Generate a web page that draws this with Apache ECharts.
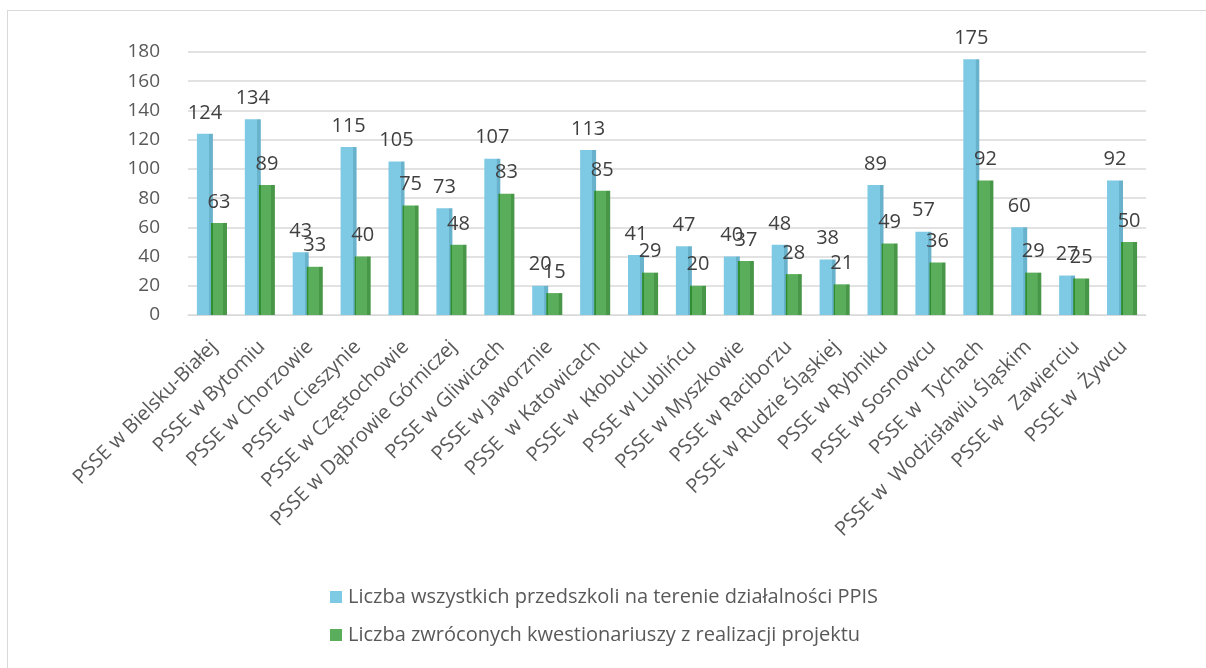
<!DOCTYPE html>
<html>
<head>
<meta charset="utf-8">
<script src="https://cdn.jsdelivr.net/npm/echarts@6/dist/echarts.min.js"></script>
<style>
    html, body {
        margin: 0;
        padding: 0;
        background: #fff;
        overflow: hidden;
    }
    #frame {
        position: absolute;
        left: 7px;
        top: 10px;
        width: 1230px;
        height: 700px;
        border: 1px solid #d9d9d9;
    }
    #chart {
        position: absolute;
        left: 0;
        top: 0;
        width: 1206px;
        height: 668px;
    }
</style>
</head>
<body>
<div id="frame"></div>
<div id="chart"></div>
<script>
// kategorie (PSSE) i wartości
var categories = [
    'PSSE w Bielsku-Białej', 'PSSE w Bytomiu', 'PSSE w Chorzowie', 'PSSE w Cieszynie',
    'PSSE w Częstochowie', 'PSSE w Dąbrowie Górniczej', 'PSSE w Gliwicach', 'PSSE w Jaworznie',
    'PSSE  w Katowicach', 'PSSE w  Kłobucku', 'PSSE w Lublińcu', 'PSSE w Myszkowie',
    'PSSE w Raciborzu', 'PSSE w Rudzie Śląskiej', 'PSSE w Rybniku', 'PSSE w Sosnowcu',
    'PSSE w  Tychach', 'PSSE w  Wodzisławiu Śląskim', 'PSSE w   Zawierciu', 'PSSE w  Żywcu'
]
var allPreschools = [124, 134, 43, 115, 105, 73, 107, 20, 113, 41, 47, 40, 48, 38, 89, 57, 175, 60, 27, 92]
var returnedForms = [63, 89, 33, 40, 75, 48, 83, 15, 85, 29, 20, 37, 28, 21, 49, 36, 92, 29, 25, 50]
var seriesNames = [
    'Liczba wszystkich przedszkoli na terenie działalności PPIS',
    'Liczba zwróconych kwestionariuszy z realizacji projektu'
]

var FONT = '"Open Sans", "Noto Sans", sans-serif'

// pseudo 3D: ciemniejszy pasek po prawej stronie słupka
function sideShade(face, side, edge) {
    var stops = []
    if (edge) {
        stops.push({ offset: 0, color: edge }, { offset: 0.1, color: edge }, { offset: 0.11, color: face })
    } else {
        stops.push({ offset: 0, color: face })
    }
    stops.push({ offset: 0.76, color: face }, { offset: 0.77, color: side }, { offset: 1, color: side })
    return new echarts.graphic.LinearGradient(0, 0, 1, 0, stops)
}

var myChart = echarts.init(document.getElementById('chart'))
var option = {
    backgroundColor: 'transparent',
    textStyle: { fontFamily: FONT },
    legend: {
        orient: 'vertical',
        left: 330,
        top: 587,
        padding: 0,
        itemWidth: 12,
        itemHeight: 12,
        itemGap: 18,
        itemStyle: { borderWidth: 0 },
        icon: 'rect',
        textStyle: { fontSize: 20, color: '#595959', fontFamily: FONT, padding: [0, 0, 0, 1] },
        data: [
            { name: seriesNames[0], itemStyle: { color: '#7ec9e3' } },
            { name: seriesNames[1], itemStyle: { color: '#5aad5a' } }
        ]
    },
    grid: {
        left: 188,
        right: 60,
        top: 52,
        bottom: 353
    },
    xAxis: {
        type: 'category',
        data: categories,
        axisLine: { show: true, lineStyle: { color: '#d9d9d9', width: 1 } },
        axisTick: { show: false },
        axisLabel: {
            interval: 0,
            rotate: 45,
            margin: 31,
            padding: [0, -3, 0, 0],
            fontSize: 20,
            color: '#595959',
            fontFamily: FONT
        }
    },
    yAxis: {
        type: 'value',
        min: 0,
        max: 180,
        interval: 20,
        axisLine: { show: false },
        axisTick: { show: false },
        splitLine: { lineStyle: { color: '#d9d9d9', width: 1.5 } },
        axisLabel: {
            margin: 28,
            fontSize: 19,
            color: '#595959',
            fontFamily: FONT
        }
    },
    series: [
        {
            name: seriesNames[0],
            type: 'bar',
            data: allPreschools,
            barWidth: 16,
            barGap: '-12%',
            itemStyle: {
                color: sideShade('#7ec9e3', '#69b2cc')
            },
            label: {
                show: true,
                position: 'top',
                distance: 11,
                fontSize: 20,
                color: '#404040',
                fontFamily: FONT
            }
        },
        {
            name: seriesNames[1],
            type: 'bar',
            data: returnedForms,
            barWidth: 16,
            itemStyle: {
                color: sideShade('#5aad5a', '#489748', '#2f8f2f')
            },
            label: {
                show: true,
                position: 'top',
                distance: 11,
                fontSize: 20,
                color: '#404040',
                fontFamily: FONT
            }
        }
    ]
}
myChart.setOption(option)
</script>
</body>
</html>
